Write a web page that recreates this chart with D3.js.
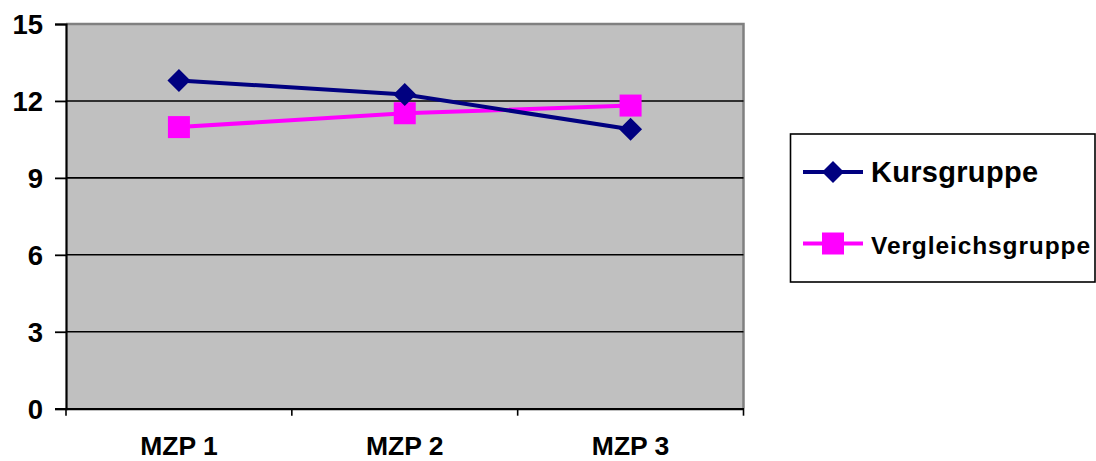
<!DOCTYPE html>
<html>
<head>
<meta charset="utf-8">
<script src="https://cdn.jsdelivr.net/npm/d3@7"></script>
<style>
  html, body { margin: 0; padding: 0; background: #fff; }
  svg { display: block; }
  text { font-family: "Liberation Sans", Arial, sans-serif; font-weight: bold; fill: #000; }
</style>
</head>
<body>
<svg id="chart" width="1096" height="461"></svg>
<script>
// Messzeitpunkte and group means
const categories = ["MZP 1", "MZP 2", "MZP 3"];
const kursgruppe = [12.8, 12.25, 10.9];
const vergleichsgruppe = [10.98, 11.52, 11.82];
const yTicks = [0, 3, 6, 9, 12, 15];
const seriesNames = ["Kursgruppe", "Vergleichsgruppe"];

const svg = d3.select("#chart");
const plot = { left: 66, right: 743.5, top: 24, bottom: 408.7 };

const x = d3.scaleBand().domain(categories).range([plot.left, plot.right]).padding(0);
const y = d3.scaleLinear().domain([0, 15]).range([plot.bottom, plot.top]);

// plot background
svg.append("rect")
  .attr("x", plot.left).attr("y", plot.top)
  .attr("width", plot.right - plot.left).attr("height", plot.bottom - plot.top)
  .attr("fill", "#c0c0c0");

// grey frame on top and right
svg.append("path")
  .attr("d", `M${plot.left},${plot.top}H${plot.right}V${plot.bottom}`)
  .attr("fill", "none").attr("stroke", "#808080").attr("stroke-width", 2.5);

// horizontal gridlines
svg.append("g")
  .selectAll("line")
  .data(yTicks.filter(d => d > 0 && d < 15))
  .join("line")
  .attr("x1", plot.left).attr("x2", plot.right)
  .attr("y1", d => y(d)).attr("y2", d => y(d))
  .attr("stroke", "#000").attr("stroke-width", 1.6);

// y axis
const yAxis = svg.append("g")
  .attr("transform", `translate(${plot.left},0)`)
  .call(d3.axisLeft(y).tickValues(yTicks).tickSize(11).tickPadding(12).tickFormat(d3.format("d")));
yAxis.select(".domain").attr("stroke", "#000").attr("stroke-width", 2.2);
yAxis.selectAll(".tick line").attr("stroke", "#000").attr("stroke-width", 1.8);
yAxis.selectAll(".tick text")
  .attr("font-size", 27.5).attr("dy", "0.36em")
  .style("font-family", '"Liberation Sans", Arial, sans-serif').style("font-weight", "bold");

// x axis
const xAxis = svg.append("g")
  .attr("transform", `translate(0,${plot.bottom})`)
  .call(d3.axisBottom(x).tickSize(0).tickPadding(0));
xAxis.select(".domain").attr("stroke", "#000").attr("stroke-width", 2.2);
xAxis.selectAll(".tick text")
  .attr("font-size", 26.5).attr("y", 46.8).attr("dy", 0)
  .style("font-family", '"Liberation Sans", Arial, sans-serif').style("font-weight", "bold");

// category separator ticks
const bounds = categories.map(c => x(c)).concat([x(categories[categories.length - 1]) + x.bandwidth()]);
svg.append("g")
  .selectAll("line")
  .data(bounds)
  .join("line")
  .attr("x1", d => d).attr("x2", d => d)
  .attr("y1", plot.bottom).attr("y2", plot.bottom + 7)
  .attr("stroke", "#000").attr("stroke-width", 1.6);

const cx = c => x(c) + x.bandwidth() / 2;
const line = d3.line().x((d, i) => cx(categories[i])).y(d => y(d));

const colK = "#000080", colV = "#ff00ff";
const diamond = (g, px, py, r) =>
  g.append("path").attr("d", `M${px},${py - r}L${px + r},${py}L${px},${py + r}L${px - r},${py}Z`);

// Vergleichsgruppe
svg.append("path").datum(vergleichsgruppe)
  .attr("d", line).attr("fill", "none").attr("stroke", colV).attr("stroke-width", 4);
svg.append("g").selectAll("rect")
  .data(vergleichsgruppe)
  .join("rect")
  .attr("x", (d, i) => cx(categories[i]) - 11).attr("y", d => y(d) - 11)
  .attr("width", 22).attr("height", 22).attr("fill", colV);

// Kursgruppe
svg.append("path").datum(kursgruppe)
  .attr("d", line).attr("fill", "none").attr("stroke", colK).attr("stroke-width", 4);
const kMarks = svg.append("g").attr("fill", colK);
kursgruppe.forEach((d, i) => diamond(kMarks, cx(categories[i]), y(d), 11.5));

// legend
const legend = svg.append("g");
legend.append("rect")
  .attr("x", 790.5).attr("y", 134).attr("width", 304.5).attr("height", 148)
  .attr("fill", "#fff").attr("stroke", "#000").attr("stroke-width", 1.6);

const lk = 172, lv = 243.5;
legend.append("line").attr("x1", 803).attr("x2", 863).attr("y1", lk).attr("y2", lk)
  .attr("stroke", colK).attr("stroke-width", 4);
diamond(legend.append("g").attr("fill", colK), 833, lk, 11);
legend.append("text").attr("x", 871).attr("y", lk + 10).attr("font-size", 29)
  .attr("letter-spacing", 0.3).text(seriesNames[0]);

legend.append("line").attr("x1", 803).attr("x2", 863).attr("y1", lv).attr("y2", lv)
  .attr("stroke", colV).attr("stroke-width", 4);
legend.append("rect").attr("x", 822).attr("y", lv - 11).attr("width", 22).attr("height", 22).attr("fill", colV);
legend.append("text").attr("x", 871).attr("y", lv + 10).attr("font-size", 24.5)
  .attr("letter-spacing", 0.9).text(seriesNames[1]);
</script>
</body>
</html>
